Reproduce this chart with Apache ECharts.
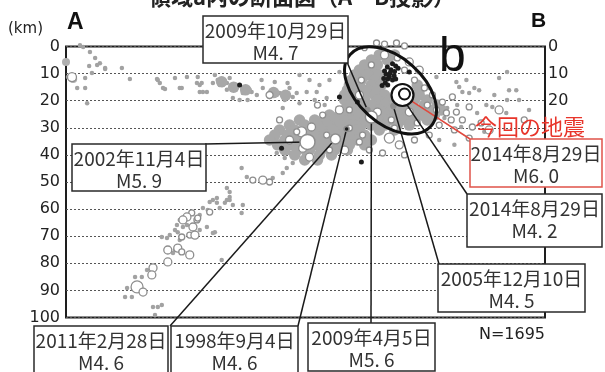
<!DOCTYPE html>
<html>
<head>
<meta charset="utf-8">
<script src="https://cdn.jsdelivr.net/npm/echarts@6/dist/echarts.min.js"></script>
<style>
html,body{margin:0;padding:0;background:#fff;}
#chart{width:605px;height:372px;}
</style>
</head>
<body>
<div id="chart"></div>
<script>
// Depth axis (km), shared by left and right scales
const depthTicks = [0, 10, 20, 30, 40, 50, 60, 70, 80, 90, 100];
const rightTickLabels = ['0', '10', '20'];
const totalCount = 1695;

// Hypocentres: [distance along A-B (km), depth (km)]
const scatterDots = [
  [4.3,0.2],[6,2],[7.3,4.2],[7.8,6.8],[5.8,7.2],[9.8,8.3],[6.5,9.8],[14,7.9],[0.5,11.3],[4.8,11.6],
  [2.8,15.3],[4.8,15.3],[5.3,20.9],[16,12],[23,12.4],[23.5,13.5],[24.8,15.7],[27.3,11.6],[29,15.3],
  [30.3,11.3],[32.8,13.5],[34,13.5],[33.5,16.8],[35.3,16.8],[3.5,-0.5],[8.5,6.2],[9.8,7.9],
  [22.8,12],[24.3,15.3],[28.5,15.3],[33.5,14.2],[34.3,16.8],[36.8,13.5],[38,12.4],[39.3,14.2],
  [40.3,16],[41.8,14.9],[44.3,17.2],[46.5,16.8],[47.8,17.9],[49.3,15.3],[51,18.6],[52.8,17.9],
  [54.3,22.7],[56,15.3],[56.8,18.6],[41.8,19],[43.5,19.7],[45.5,19.7],[38.5,14.2],[40.3,13.5],
  [46,16],[53.5,17.2],[55.5,13.5],[57.8,17.2],[60.3,16.8],[62.8,16.8],[65.3,19],[33,11.3],[61,12.4],
  [63.5,14.2],[58.5,10.5],[66,12.4],[68.5,9.4],[37.3,10.5],[41,11.6],[49,12.4],[52.3,13.1],
  [54.8,19.7],[58.5,20.9],[62.3,19.7],[64.8,21.6],[68,22.7],
  [92.8,11.3],[91,15.3],[97.8,13.1],[98.5,14.9],[100.3,12.4],[99.3,16.8],[101,17.2],[102.3,15.3],
  [103.5,16.1],[105.3,21.6],[106.8,22.3],[110.3,24.5],[112.8,16.1],[111,16.1],[110.5,9.4],
  [110.5,19.7],[113.5,19.7],[108.5,11.6],[95.5,22.7],[98,21.6],[94.8,26.4],[99,29.7],[103,24.5],
  [104.8,31.5],[116,23.4],[107.3,17.9],[93.5,34.5],[97.3,36.3],
  [52.8,39.3],[54.8,41.1],[56,39.3],[56.8,43],[55.3,44.8],[54.3,46.7],[44,44.8],[45.3,48.2],
  [51.8,48.5],[40.3,52.2],[41,53.7],[36.8,56.6],[37.8,57.7],[40.3,56.6],[34.3,59.6],[35.5,60.3],
  [38.5,59.6],[41,56.6],[41.8,58.5],[44.3,58.5],[33.5,62.2],[28.5,64],[29.3,66.6],[27.3,67.7],
  [26,69.6],[31.8,67],[33.5,67.7],[35.3,66.6],[36.8,68.8],[24,70.3],[25.3,70.7],[36,57.4],
  [37.8,55.9],[39.8,57.7],[41,55.5],[30.3,65.9],[27.8,65.9],[28,68.5],[28.5,71.4],[39,78.8],
  [44,61.4],[37.3,68.5],[24,95.4],[20.3,82.5],[19,85.1],[17.3,85.1],[15.3,89.1],[14.8,92.4],
  [16.5,92.4],[21.8,96.1],[23,96.1],[22.3,99.1],[27.3,75.1],[26.8,76.2]
];

// Dense swarm around the source region
const swarmDots = [
  [39,13],[42,15],[45,16],[52,17],[55,18],
  [66,25.3],[68.5,25.3],[71,25.3],
  [58.5,27.1],[62.3,27.1],[64.8,27.1],[67.3,27.1],[69.8,27.1],[72.3,27.1],
  [56,29],[59.8,29],[63,29],[65.5,29],[68.5,29],[71.5,29],[74,29],
  [53.5,30.8],[57.3,30.8],[61,30.8],[64,30.8],[66.8,30.8],[69.8,30.8],[73,30.8],
  [52.3,32.7],[55.5,32.7],[58.5,32.7],[62.3,32.7],[64.8,32.7],[68.5,32.7],[71.5,32.7],[74.8,32.7],
  [51,34.5],[54.8,34.5],[57.3,34.5],[63,34.5],[65.5,34.5],[69.8,34.5],[73,34.5],[76.5,34.5],
  [53,36.3],[56,36.3],[58.5,36.3],[62.3,36.3],[64.8,36.3],[68,36.3],[71,36.3],[74.8,36.3],
  [54.8,38.2],[58,38.2],[61,38.2],[64,38.2],[67.3,38.2],[70.5,38.2],
  [57.3,40],[60.5,40],[63.5,40],[66.5,40],[59.8,41.9],[63,41.9],
  [78.5,3.1],[82.3,3.1],[76.5,5],[80.5,5],[74.8,6.8],[78,6.8],[73.5,8.7],[76.5,8.7],
  [72.3,10.5],[75.5,10.5],[78.5,10.5],[71.5,12.4],[74,12.4],[77.3,12.4],
  [71,14.2],[73.5,14.2],[76.5,14.2],[79,14.2],[88,14.2],
  [70.5,16.1],[73,16.1],[75.5,16.1],[78,16.1],[88.5,16.1],
  [69.8,17.9],[72.3,17.9],[74.8,17.9],[77.3,17.9],[79.8,17.9],[88.5,17.9],
  [69.8,19.7],[72.3,19.7],[74.8,19.7],[78,19.7],[81,19.7],[87.3,19.7],[90.5,19.7],
  [71,21.6],[73.5,21.6],[76.5,21.6],[79.8,21.6],[83.5,21.6],[86.5,21.6],[89.8,21.6],[93,21.6],
  [69.8,23.4],[72.3,23.4],[74.8,23.4],[78.5,23.4],[81.5,23.4],[84.8,23.4],[88,23.4],[91,23.4],[94,23.4],
  [73.5,25.3],[76,25.3],[79.8,25.3],[83,25.3],[86,25.3],[89,25.3],[92.3,25.3],
  [74.8,27.1],[78,27.1],[81,27.1],[84,27.1],[87.3,27.1],[90.5,27.1],
  [76.5,29],[79.8,29],[83,29],[86,29],[78.5,30.8],[82.3,30.8]
];

// Open circles: [distance, depth, radius]
const openRings = [
  [77.8,-1.3,3],[79.8,-0.9,3],[82.8,-1.3,3],[84.8,-0.2,3],[74.8,0.6,2.5],[1.5,11.3,4.5],
  [86,5.7,4],[88.5,8.7,4],[87.3,12.4,3],[89.8,15.3,3],[84.8,8.7,3],[83,4.2,3],[79.8,3.1,4],
  [76.5,6.8,3],[74,12.4,3],[73.5,17.9,4],[71,23.4,3],[78,24.2,4],[81.5,27.1,3],[86,24.2,4],
  [90.5,21.6,3],[91.8,17.9,3],[88,28.2,3],
  [59,31.5,5],[61.5,29.7,4],[65.3,32.7,3],[71,30.1,3],[68.5,23.4,4],[59.3,37.5,4],[61,40.8,4],
  [73.5,35.2,3],[81,33.8,5],[83.5,36.3,4],[74.3,32.7,3],[79.3,39.3,3],[57.8,31.5,3],[64.3,25.3,3],
  [56,34.5,4],[53.5,27.1,3],[66,38.2,3],[69.8,38.2,4],[76,38.2,3],[87.3,34.5,3],[91,32.7,3],
  [82.3,30.1,3],[84.8,40,3],[63,21.6,3],[51,17.9,3.5],
  [94.3,20.5,3],[92.8,23.4,3],[95.3,24.5,3],[97.8,24.2,3],[96.5,27.1,3],[99.3,27.1,3],
  [101.8,29.7,3],[104,28.2,3],[106,30.8,4],[101,22.3,3],[96.8,18.6,3],[108.5,23.4,4],[93.5,29,3],
  [97.3,30.8,3],[114.8,27.1,3],[101,33.8,3],
  [46.8,49.3,3],[49.3,49.3,4],[51,50,3],[31.5,61.4,3],[30.3,62.9,4],[32.8,64,3],[29,70.3,3],
  [31,69.6,3],[36,61.1,3],[33,63.3,3],[29.3,64,4],[31.8,66.6,4],[32.3,69.6,4],[25.5,75.1,4],
  [28,74.4,4],[31,76.9,4],[25.5,79.5,4],[21.8,81.7,4],[21.5,84.3,4],[17.8,88.7,6],[19.3,90.6,4],
  [29,75.8,3]
];
// Larger grey events at the west edge
const edgeBlobs = [[0,5.7],[1.8,12]];

// Recent activity (dark)
const recentDots = [
  [80.5,7.6],[82.3,9.2],[81,11.2],[80,13.4],[82.6,7.2],[81.4,8.6],[80.2,10.2],[81.8,12.4],
  [80.6,12],[79.6,11.8],[82.2,10.8],[83.2,8.0],[81.8,6.4],[79.2,14.4],[80.6,14.2],[81.2,9.8],
  [79.8,9.0],[82.6,12.0],
  [68.5,18.6],[43.5,14.2],[54,37.5],[86,9.4],[73,20.5],[74,42.6]
];

// Labelled earthquakes
const eventDates = ['2014年8月29日','2014年8月29日','2009年10月29日','2009年4月5日','2005年12月10日','1998年9月4日','2011年2月28日','2002年11月4日'];
const eventMags  = [6.0, 4.2, 4.7, 5.6, 4.5, 4.6, 4.6, 5.9];
const eventDist  = [84.3, 84.5, 75.5, 76.5, 82.0, 70.3, 67.5, 60.5];
const eventDepth = [17.9, 19.5, 23.4, 26.0, 22.0, 30.4, 34.1, 35.2];
const eventKind  = ['main','dot','dot','white','dot','dark','white','white'];
const eventSize  = [22, 5, 5, 12, 5, 5, 10, 15];

// Callout boxes: position of each box and the point where its leader leaves it
const calloutBoxes = [
  {x:470, y:139, w:132, h:48, ax:470, ay:139, red:true},
  {x:467, y:194, w:135, h:53, ax:467, ay:194},
  {x:203, y:16,  w:145, h:47, ax:347, ay:62},
  {x:308, y:323, w:127, h:48, ax:371, ay:323},
  {x:438, y:264, w:147, h:48, ax:439, ay:264},
  {x:171, y:326, w:127, h:50, ax:298, ay:326},
  {x:34,  y:326, w:134, h:50, ax:170, ay:326},
  {x:72,  y:144, w:134, h:47, ax:205, ay:144}
];

const chart = echarts.init(document.getElementById('chart'), null, {renderer:'canvas'});
const GREY = '#a2a2a2';
const numFont = 'DejaVu Sans';
const jpFont = '"Noto Sans CJK JP"';

const mainIdx = 0;
const eventData = eventDist.map((d, i) => [d, eventDepth[i], eventSize[i], eventKind[i]]);

chart.setOption({
  animation: false,
  grid: {left:66, right:60, top:46.5, bottom:54.5, show:true, borderColor:'#1e1e1e', borderWidth:2, backgroundColor:'transparent'},
  xAxis: {type:'value', min:0, max:120, show:true,
    axisLine:{show:false}, axisTick:{show:false}, axisLabel:{show:false}, splitLine:{show:false}},
  yAxis: [
    {type:'value', inverse:true, min:0, max:100, interval:10, position:'left',
      axisLine:{show:false}, axisTick:{show:false},
      axisLabel:{margin:6, fontFamily:numFont, fontSize:16, color:'#222',
        formatter: v => depthTicks.includes(v) ? String(v) : ''},
      splitLine:{show:true, lineStyle:{color:'#555', width:1, type:[2,2]}}},
    {type:'value', inverse:true, min:0, max:100, interval:10, position:'right',
      axisLine:{show:false}, axisTick:{show:false},
      axisLabel:{margin:3, fontFamily:numFont, fontSize:16, color:'#222',
        formatter: v => rightTickLabels.includes(String(v)) ? String(v) : ''},
      splitLine:{show:false}}
  ],
  series: [
    {type:'scatter', clip:false, z:2, data:scatterDots, symbolSize:4.5,
      itemStyle:{color:GREY, opacity:1}},
    {type:'scatter', clip:false, z:2, data:edgeBlobs, symbolSize:8,
      itemStyle:{color:'#b0b0b0', opacity:1}},
    {type:'scatter', clip:false, z:2, data:swarmDots, symbolSize:11.5,
      itemStyle:{color:'#a8a8a8', opacity:1}},
    {type:'scatter', clip:false, z:2, data:openRings, symbolSize: v => v[2]*2,
      itemStyle:{color:'#fff', borderColor:'#8e8e8e', borderWidth:1.3, opacity:1}},
    {type:'scatter', clip:false, z:2, data:recentDots, symbolSize:5,
      itemStyle:{color:'#1c1c1c', opacity:1}},
    {type:'scatter', clip:false, z:4, data:eventData.filter(e => e[3] !== 'main'),
      symbolSize: v => v[2],
      itemStyle:{
        color: p => p.value[3] === 'white' ? '#fff' : (p.value[3] === 'dark' ? '#1c1c1c' : '#8e8e8e'),
        borderColor: '#8e8e8e',
        borderWidth: 1.5,
        opacity:1
      }},
    {type:'scatter', clip:false, z:6, data:[eventData[mainIdx]], symbolSize: v => v[2],
      itemStyle:{color:'#fff', borderColor:'#111', borderWidth:2.2, opacity:1}},
    {type:'scatter', clip:false, z:7, data:[eventData[mainIdx]], symbolSize:11, symbolOffset:[2,-1],
      itemStyle:{color:'#fff', borderColor:'#111', borderWidth:2, opacity:1}}
  ]
});

// Annotation layer
const g = [];
// partially visible heading above the plot
g.push({type:'text', x:302, y:-14, z:100, style:{text:'領域a内の断面図（A－B投影）', font:'bold 22px ' + jpFont, fill:'#222', textAlign:'center', textVerticalAlign:'top'}});
g.push({type:'text', x:8, y:29, z:100, style:{text:'(km)', font:'15px ' + numFont, fill:'#222', textVerticalAlign:'middle'}});
g.push({type:'text', x:67, y:23, z:100, style:{text:'A', font:'bold 23px "Liberation Sans"', fill:'#111', textVerticalAlign:'middle'}});
g.push({type:'text', x:531, y:21, z:100, style:{text:'B', font:'bold 21px "Liberation Sans"', fill:'#111', textVerticalAlign:'middle'}});
g.push({type:'text', x:439, y:58, z:100, style:{text:'b', font:'48px "Liberation Sans"', fill:'#111', textVerticalAlign:'middle'}});
g.push({type:'text', x:545, y:335, z:100, style:{text:'N=' + totalCount, font:'16px ' + numFont, fill:'#222', textAlign:'right', textVerticalAlign:'middle'}});
g.push({type:'text', x:475, y:127, z:100, style:{text:'今回の地震', font:'22px ' + jpFont, fill:'#e8352b', textVerticalAlign:'middle'}});

// swarm outline around region b
const ec = chart.convertToPixel({gridIndex:0}, [81.3, 16.2]);
g.push({type:'ellipse', x:ec[0], y:ec[1], rotation:-0.728, z:50,
  shape:{cx:0, cy:0, rx:54, ry:33},
  style:{fill:'none', stroke:'#111', lineWidth:3}});

// leader lines and callouts
calloutBoxes.forEach((b, i) => {
  const p = chart.convertToPixel({gridIndex:0}, [eventDist[i], eventDepth[i]]);
  g.push({type:'line', z:3, shape:{x1:b.ax, y1:b.ay, x2:p[0], y2:p[1]},
    style:{stroke: b.red ? '#e0493e' : '#1a1a1a', lineWidth:1.5}});
  const mag = eventMags[i].toFixed(1).replace('.', '. ');
  g.push({type:'group', x:b.x, y:b.y, z:60, children:[
    {type:'rect', z:60, shape:{x:0, y:0, width:b.w, height:b.h},
      style:{fill:'#fff', stroke: b.red ? '#e0534a' : '#2a2a2a', lineWidth:1.5}},
    {type:'text', z:61, x:b.w/2, y:15, style:{text:eventDates[i], font:'19px ' + jpFont, fill:'#333', textAlign:'center', textVerticalAlign:'middle'}},
    {type:'text', z:61, x:b.w/2, y:37, style:{text:'M' + mag, font:'19px ' + jpFont, fill:'#333', textAlign:'center', textVerticalAlign:'middle'}}
  ]});
});

chart.setOption({graphic:{elements:g}});
</script>
</body>
</html>
